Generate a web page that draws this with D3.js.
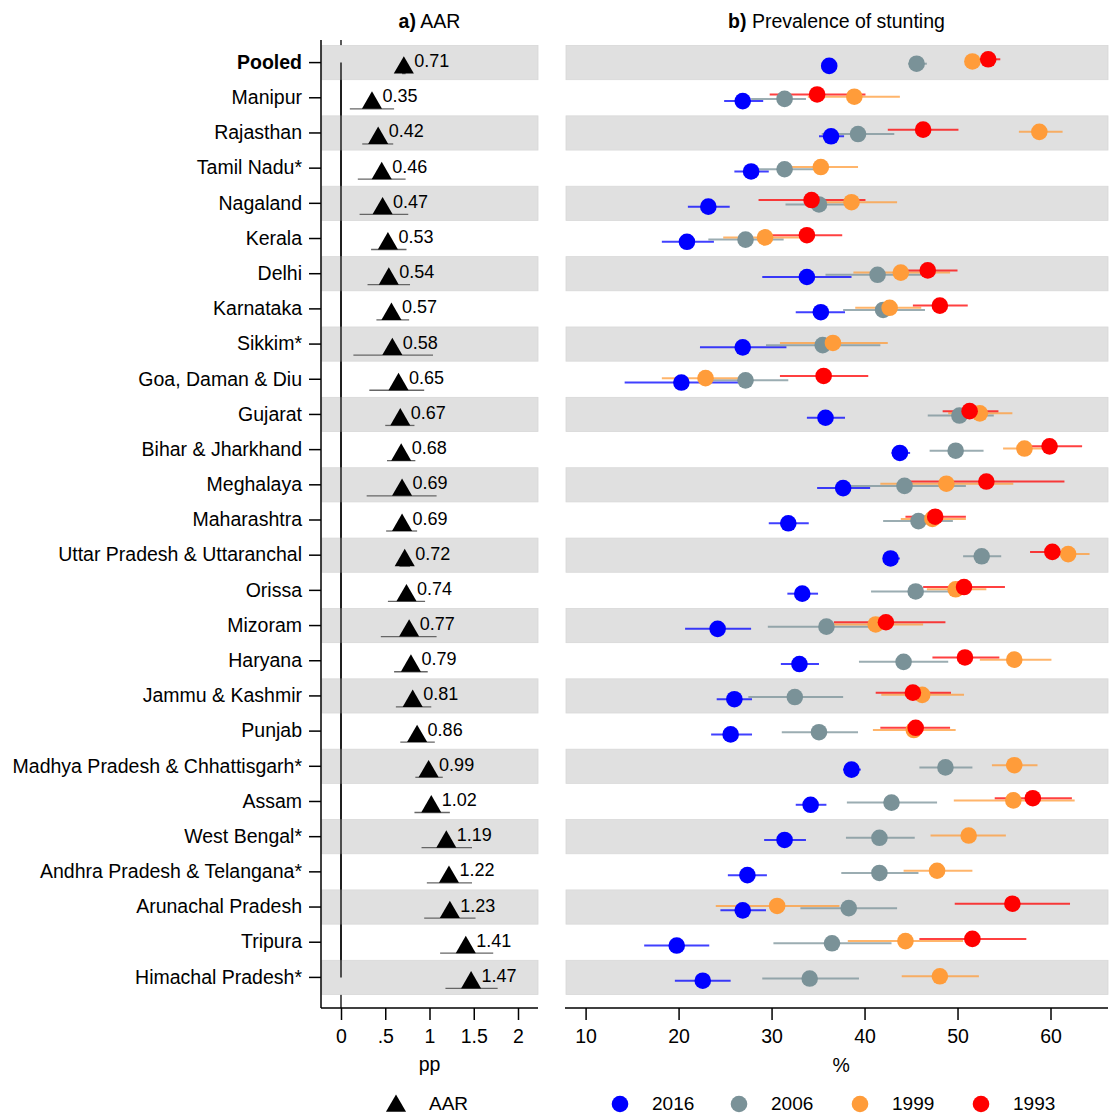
<!DOCTYPE html>
<html>
<head>
<meta charset="utf-8">
<script src="https://cdn.jsdelivr.net/npm/d3@7"></script>
<style>
  body { margin: 0; background: #fff; }
  svg { font-family: "Liberation Sans", Arial, Helvetica, sans-serif; }
</style>
</head>
<body>
<div id="chart"></div>
<script>
// rows, top to bottom
const states = ["Pooled", "Manipur", "Rajasthan", "Tamil Nadu*", "Nagaland", "Kerala", "Delhi", "Karnataka",
  "Sikkim*", "Goa, Daman & Diu", "Gujarat", "Bihar & Jharkhand", "Meghalaya", "Maharashtra",
  "Uttar Pradesh & Uttaranchal", "Orissa", "Mizoram", "Haryana", "Jammu & Kashmir", "Punjab",
  "Madhya Pradesh & Chhattisgarh*", "Assam", "West Bengal*", "Andhra Pradesh & Telangana*",
  "Arunachal Pradesh", "Tripura", "Himachal Pradesh*"];

// a) AAR (pp) with CI
const aar   = [0.71, 0.35, 0.42, 0.46, 0.47, 0.53, 0.54, 0.57, 0.58, 0.65, 0.67, 0.68, 0.69, 0.69, 0.72, 0.74, 0.77, 0.79, 0.81, 0.86, 0.99, 1.02, 1.19, 1.22, 1.23, 1.41, 1.47];
const aarLo = [0.69, 0.10, 0.24, 0.19, 0.21, 0.34, 0.30, 0.40, 0.14, 0.32, 0.50, 0.52, 0.29, 0.51, 0.66, 0.53, 0.45, 0.60, 0.62, 0.67, 0.84, 0.83, 0.91, 0.97, 0.94, 1.12, 1.18];
const aarHi = [0.73, 0.60, 0.59, 0.73, 0.76, 0.74, 0.78, 0.77, 1.04, 0.94, 0.83, 0.84, 1.08, 0.86, 0.78, 0.95, 1.08, 0.98, 1.02, 1.06, 1.15, 1.23, 1.48, 1.48, 1.52, 1.72, 1.77];

// b) prevalence of stunting (%) with CI, per survey year
const p2016  = [36.2, 26.9, 36.4, 27.8, 23.2, 20.9, 33.8, 35.3, 26.9, 20.3, 35.8, 43.8, 37.7, 31.8, 42.8, 33.3, 24.2, 33.0, 26.0, 25.6, 38.6, 34.2, 31.4, 27.4, 26.9, 19.8, 22.6];
const lo2016 = [35.7, 24.9, 35.1, 26.0, 21.0, 18.2, 29.0, 32.6, 22.3, 14.2, 33.8, 42.9, 34.9, 29.7, 42.2, 31.7, 20.7, 31.0, 24.1, 23.5, 37.7, 32.6, 29.2, 25.3, 24.5, 16.3, 19.6];
const hi2016 = [36.7, 29.1, 37.8, 29.7, 25.5, 23.8, 38.6, 37.9, 31.6, 26.4, 37.9, 44.9, 40.6, 34.0, 43.8, 35.0, 27.8, 35.1, 27.9, 27.9, 39.6, 35.9, 33.7, 29.5, 29.4, 23.3, 25.6];

const p2006  = [45.6, 31.4, 39.3, 31.4, 35.1, 27.2, 41.4, 42.0, 35.5, 27.2, 50.2, 49.8, 44.3, 45.8, 52.6, 45.5, 35.9, 44.2, 32.5, 35.1, 48.7, 42.9, 41.6, 41.6, 38.3, 36.5, 34.1];
const lo2006 = [44.7, 27.8, 35.4, 27.5, 31.5, 23.2, 35.8, 37.7, 29.4, 22.6, 46.8, 47.0, 37.7, 42.0, 50.6, 40.7, 29.6, 39.4, 27.5, 31.1, 45.9, 38.1, 38.0, 37.5, 33.1, 30.2, 29.0];
const hi2006 = [46.7, 33.7, 43.2, 35.4, 38.7, 31.3, 46.1, 46.5, 41.7, 31.8, 53.9, 52.8, 50.9, 49.5, 54.7, 50.3, 42.2, 49.0, 37.7, 39.3, 51.6, 47.8, 45.4, 45.8, 43.5, 42.9, 39.4];

const p1999  = [51.6, 38.9, 58.8, 35.3, 38.6, 29.3, 43.9, 42.7, 36.6, 22.9, 52.4, 57.2, 48.8, 47.3, 61.9, 49.8, 41.2, 56.1, 46.2, 45.3, 56.1, 56.0, 51.2, 47.8, 30.6, 44.4, 48.1];
const lo1999 = [50.9, 33.9, 56.6, 31.3, 33.7, 24.8, 38.8, 39.0, 30.9, 18.2, 49.0, 54.9, 41.7, 43.9, 59.5, 46.7, 36.1, 52.4, 41.8, 40.9, 53.7, 49.6, 47.1, 44.2, 24.0, 38.2, 44.0];
const hi1999 = [52.3, 43.8, 61.3, 39.3, 43.5, 33.8, 49.2, 46.1, 42.5, 27.6, 55.9, 59.5, 56.0, 50.9, 64.2, 53.1, 46.3, 60.1, 50.7, 49.8, 58.6, 62.6, 55.2, 51.6, 37.3, 50.6, 52.3];

const p1993  = [53.3, 34.9, 46.3, null, 34.3, 33.8, 46.8, 48.1, null, 35.6, 51.3, 59.9, 53.1, 47.6, 60.2, 50.7, 42.3, 50.8, 45.2, 45.5, null, 58.1, null, null, 55.9, 51.6, null];
const lo1993 = [52.0, 29.8, 42.5, null, 28.6, 30.0, 43.6, 45.2, null, 30.9, 48.4, 56.4, 44.7, 44.4, 57.8, 46.3, 36.7, 47.3, 41.2, 41.7, null, 54.0, null, null, 49.7, 45.9, null];
const hi1993 = [54.6, 40.1, 50.1, null, 40.1, 37.6, 50.0, 51.1, null, 40.4, 54.4, 63.4, 61.5, 50.9, 62.6, 55.1, 48.7, 54.5, 49.3, 49.2, null, 62.3, null, null, 62.1, 57.4, null];

const years = ["2016", "2006", "1999", "1993"];
const yearColors = ["#0000ff", "#7a9298", "#ff9c3a", "#ff0000"];

const aarTicks = [0, 0.5, 1, 1.5, 2];
const aarTickLabels = ["0", ".5", "1", "1.5", "2"];
const pctTicks = [10, 20, 30, 40, 50, 60];

const width = 1110;
const height = 1115;

const svg = d3.select('#chart').append('svg')
    .attr('width', width)
    .attr('height', height);

const y = d3.scaleBand().domain(states).range([45, 995]).padding(0);
const rowY = d => y(d) + y.bandwidth() / 2;

const xA = d3.scaleLinear().domain([0, 2]).range([341, 518]);
const xB = d3.scaleLinear().domain([10, 60]).range([585.6, 1050.5]);

const panelA = { left: 321, right: 538 };
const panelB = { left: 565, right: 1108 };
const axisY = 1008;

// shaded bands on every other row
[panelA, panelB].forEach(p => {
    svg.append('g').selectAll('rect')
        .data(states.filter((d, i) => i % 2 === 0))
        .enter()
        .append('rect')
        .attr('x', p.left + 1)
        .attr('y', d => y(d) + 0.5)
        .attr('width', p.right - p.left - 1)
        .attr('height', y.bandwidth() - 1)
        .attr('fill', '#e0e0e0')
        .attr('stroke', '#d8d8d8')
        .attr('stroke-width', 0.8);
});

// zero line (full height, partly hidden by bands, then redrawn over the rows)
svg.insert('line', ':first-child')
    .attr('x1', xA(0)).attr('x2', xA(0))
    .attr('y1', 40).attr('y2', axisY)
    .attr('stroke', '#000').attr('stroke-width', 1.3);
svg.append('line')
    .attr('x1', xA(0)).attr('x2', xA(0))
    .attr('y1', rowY(states[0])).attr('y2', rowY(states[states.length - 1]))
    .attr('stroke', '#000').attr('stroke-width', 1.3);

// titles
const titles = [
    { x: (panelA.left + panelA.right) / 2, b: 'a)', t: ' AAR' },
    { x: (panelB.left + panelB.right) / 2, b: 'b)', t: ' Prevalence of stunting' }
];
titles.forEach(t => {
    const txt = svg.append('text')
        .attr('x', t.x)
        .attr('y', 28)
        .attr('text-anchor', 'middle')
        .style('font-size', '19.5px');
    txt.append('tspan').style('font-weight', 'bold').text(t.b);
    txt.append('tspan').text(t.t);
});

// y axis (left)
svg.append('line')
    .attr('x1', panelA.left).attr('x2', panelA.left)
    .attr('y1', 40).attr('y2', axisY)
    .attr('stroke', '#000').attr('stroke-width', 1.5);

const yAxis = svg.append('g')
    .attr('transform', `translate(${panelA.left},0)`)
    .call(d3.axisLeft(y).tickSize(12).tickPadding(7));
yAxis.select('.domain').remove();
yAxis.selectAll('.tick line').attr('stroke-width', 1.5);
yAxis.selectAll('.tick text')
    .style('font-size', '19.5px')
    .style('font-family', '"Liberation Sans", Arial, sans-serif')
    .attr('fill', '#000')
    .style('font-weight', d => d === 'Pooled' ? 'bold' : 'normal');

// x axes
function bottomAxis(scale, ticks, fmt, p) {
    const g = svg.append('g')
        .attr('transform', `translate(0,${axisY})`)
        .call(d3.axisBottom(scale).tickValues(ticks).tickFormat(fmt).tickSize(12).tickPadding(9));
    g.select('.domain').remove();
    g.selectAll('.tick line').attr('stroke-width', 1.5);
    g.selectAll('.tick text')
        .style('font-size', '19.5px')
        .style('font-family', '"Liberation Sans", Arial, sans-serif')
        .attr('fill', '#000');
    svg.append('line')
        .attr('x1', p.left).attr('x2', p.right)
        .attr('y1', axisY).attr('y2', axisY)
        .attr('stroke', '#000').attr('stroke-width', 1.5);
}
bottomAxis(xA, aarTicks, (d, i) => aarTickLabels[i], panelA);
bottomAxis(xB, pctTicks, d3.format('d'), panelB);

svg.append('text')
    .attr('x', xA(1)).attr('y', 1071)
    .attr('text-anchor', 'middle')
    .style('font-size', '19.5px')
    .text('pp');
svg.append('text')
    .attr('x', xB(37.5)).attr('y', 1072)
    .attr('text-anchor', 'middle')
    .style('font-size', '19.5px')
    .text('%');

// a) AAR marks
const triangle = d3.symbol().type(d3.symbolTriangle).size(175);
const gA = svg.append('g');
states.forEach((s, i) => {
    const cy = rowY(s);
    gA.append('line')
        .attr('x1', xA(aarLo[i])).attr('x2', xA(aarHi[i]))
        .attr('y1', cy + 11).attr('y2', cy + 11)
        .attr('stroke', '#666').attr('stroke-width', 1.3);
    gA.append('path')
        .attr('d', triangle())
        .attr('transform', `translate(${xA(aar[i])},${cy + 5.2})`)
        .attr('fill', '#000');
    gA.append('text')
        .attr('x', xA(aar[i]) + 10.5)
        .attr('y', cy + 4.5)
        .style('font-size', '18px')
        .text(aar[i].toFixed(2));
});

// b) prevalence marks
const series = [
    { p: p2016, lo: lo2016, hi: hi2016, dy: 3.3 },
    { p: p2006, lo: lo2006, hi: hi2006, dy: 1.1 },
    { p: p1999, lo: lo1999, hi: hi1999, dy: -1.1 },
    { p: p1993, lo: lo1993, hi: hi1993, dy: -3.3 }
];

// all CI lines first, then the dots, 2016 -> 1993
const gLines = svg.append('g');
const gDots = svg.append('g');
series.forEach((sr, k) => {
    states.forEach((s, i) => {
        if (sr.p[i] === null) return;
        const cy = rowY(s) + sr.dy;
        gLines.append('line')
            .attr('x1', xB(sr.lo[i])).attr('x2', xB(sr.hi[i]))
            .attr('y1', cy).attr('y2', cy)
            .attr('stroke', yearColors[k])
            .attr('stroke-opacity', 0.75)
            .attr('stroke-width', 2);
        gDots.append('circle')
            .attr('cx', xB(sr.p[i]))
            .attr('cy', cy)
            .attr('r', 8.3)
            .attr('fill', yearColors[k]);
    });
});

// legend
const legY = 1104;
svg.append('path')
    .attr('d', triangle())
    .attr('transform', `translate(396,${legY + 2})`)
    .attr('fill', '#000');
svg.append('text')
    .attr('x', 429).attr('y', legY + 6)
    .style('font-size', '19px')
    .text('AAR');

const legX = [620, 739, 860, 981];
years.forEach((yr, k) => {
    svg.append('circle')
        .attr('cx', legX[k]).attr('cy', legY)
        .attr('r', 8.3)
        .attr('fill', yearColors[k]);
    svg.append('text')
        .attr('x', legX[k] + 32).attr('y', legY + 6)
        .style('font-size', '19px')
        .text(yr);
});
</script>
</body>
</html>
